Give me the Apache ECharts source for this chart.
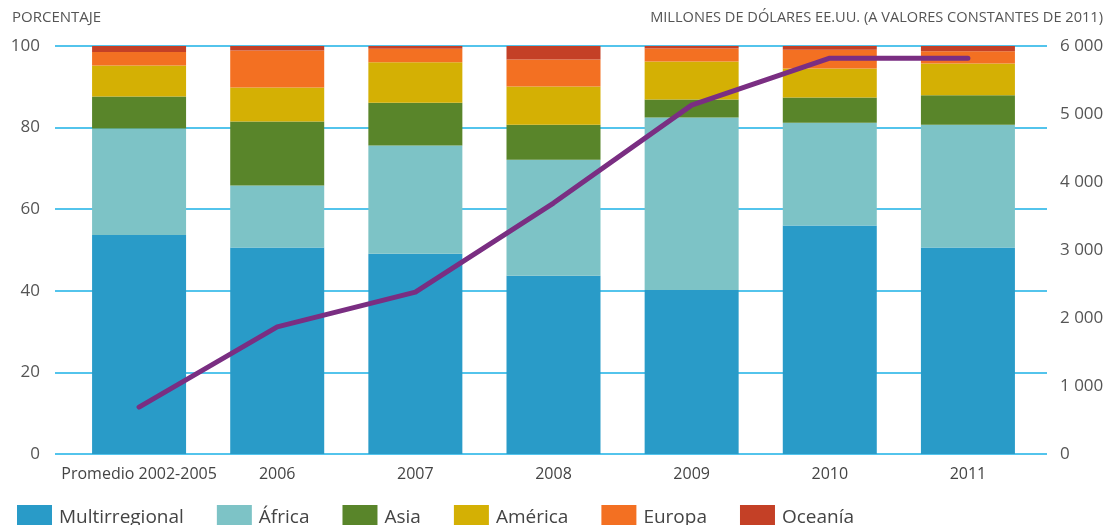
<!DOCTYPE html>
<html>
<head>
<meta charset="utf-8">
<script src="https://cdn.jsdelivr.net/npm/echarts@6/dist/echarts.min.js"></script>
<style>
    html, body { margin: 0; padding: 0; background: #fff; }
    #main { width: 1111px; height: 525px; }
</style>
</head>
<body>
<div id="main"></div>
<script>
const categories = ['Promedio 2002-2005', '2006', '2007', '2008', '2009', '2010', '2011']
const multirregional = [53.7, 50.6, 49.1, 43.7, 40.2, 56.0, 50.6]
const africa = [26.1, 15.2, 26.5, 28.4, 42.3, 25.2, 30.1]
const asia = [7.8, 15.7, 10.5, 8.6, 4.4, 6.2, 7.2]
const america = [7.6, 8.3, 9.9, 9.4, 9.3, 7.1, 7.8]
const europa = [3.3, 9.1, 3.3, 6.6, 3.2, 4.6, 3.0]
const oceania = [1.5, 1.1, 0.7, 3.3, 0.6, 0.9, 1.3]
const millones = [690, 1870, 2380, 3690, 5130, 5820, 5820]

const font = 'Open Sans'
const gridBlue = '#1AB0E6'

const chart = echarts.init(document.getElementById('main'))

const barSeries = [
    ['Multirregional', multirregional, '#299BC8'],
    ['África', africa, '#7DC3C6'],
    ['Asia', asia, '#59852A'],
    ['América', america, '#D4B004'],
    ['Europa', europa, '#F37022'],
    ['Oceanía', oceania, '#C44026'],
].map(([name, data, color]) => ({
    name,
    type: 'bar',
    stack: 'total',
    data,
    barWidth: 94,
    itemStyle: { color },
    xAxisIndex: 0,
    yAxisIndex: 0,
}))

chart.setOption({
    animation: false,
    textStyle: { fontFamily: font },
    grid: [
        // main plot
        { left: 70, right: 74, top: 46, bottom: 71 },
        // only for the gridlines, a little wider
        { left: 55, right: 64, top: 46, bottom: 71 },
    ],
    graphic: [
        {
            type: 'text', left: 12, top: 10,
            style: { text: 'PORCENTAJE', fontSize: 15, fill: '#555', fontFamily: font }
        },
        {
            type: 'text', right: 8, top: 10,
            style: { text: 'MILLONES DE DÓLARES EE.UU. (A VALORES CONSTANTES DE 2011)', fontSize: 14.6, fill: '#555', fontFamily: font }
        },
    ],
    legend: {
        left: 12,
        top: 500,
        itemWidth: 35,
        itemHeight: 25,
        itemGap: 33,
        icon: 'rect',
        textStyle: { fontSize: 19, color: '#444', fontFamily: font, padding: [0, 0, 0, 2] },
        data: ['Multirregional', 'África', 'Asia', 'América', 'Europa', 'Oceanía'],
    },
    xAxis: [
        {
            type: 'category',
            gridIndex: 0,
            data: categories,
            axisLine: { show: false },
            axisTick: { show: false },
            axisLabel: { fontSize: 16, color: '#444', margin: 12, interval: 0 },
            z: 5,
        },
        {
            type: 'value',
            gridIndex: 1,
            min: 0,
            max: 1,
            show: false,
        },
    ],
    yAxis: [
        {
            type: 'value',
            gridIndex: 0,
            min: 0,
            max: 100,
            interval: 20,
            axisLine: { show: false },
            axisTick: { show: false },
            splitLine: { show: false },
            axisLabel: { fontSize: 17, color: '#555', margin: 30 },
        },
        {
            type: 'value',
            gridIndex: 0,
            position: 'right',
            min: 0,
            max: 6000,
            interval: 1000,
            axisLine: { show: false },
            axisTick: { show: false },
            splitLine: { show: false },
            axisLabel: {
                fontSize: 17,
                color: '#555',
                margin: 23,
                formatter: v => String(v).replace(/\B(?=(\d{3})+(?!\d))/g, ' '),
            },
        },
        {
            type: 'value',
            gridIndex: 1,
            min: 0,
            max: 100,
            interval: 20,
            axisLine: { show: false },
            axisTick: { show: false },
            axisLabel: { show: false },
            splitLine: { lineStyle: { color: gridBlue, width: 1.5 } },
            z: 0,
        },
    ],
    series: [
        ...barSeries,
        {
            name: 'Millones',
            type: 'line',
            data: millones,
            xAxisIndex: 0,
            yAxisIndex: 1,
            symbol: 'none',
            lineStyle: { color: '#7A2E82', width: 5, cap: 'round', join: 'round' },
            z: 10,
        },
    ],
})
</script>
</body>
</html>
